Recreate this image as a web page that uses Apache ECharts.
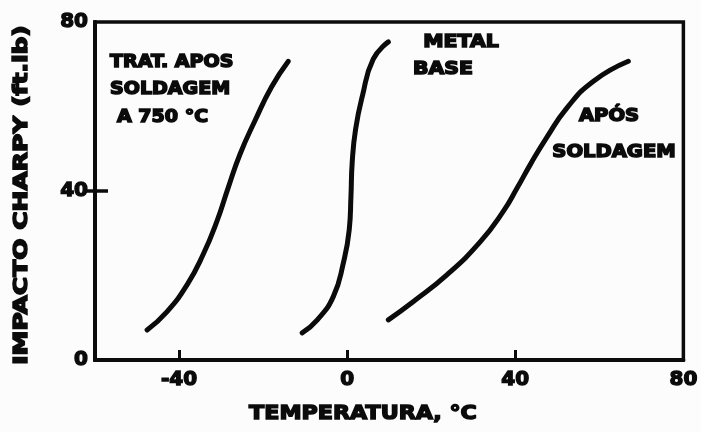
<!DOCTYPE html>
<html>
<head>
<meta charset="utf-8">
<script src="https://cdn.jsdelivr.net/npm/echarts@6/dist/echarts.min.js"></script>
<style>
html,body{margin:0;padding:0;background:#fcfcfc;}
#chart{width:701px;height:432px;}
</style>
</head>
<body>
<div id="chart"></div>
<script>
// Tick labels
const xTickValues = [-40, 0, 40, 80];
const yTickValues = [0, 40, 80];

// Curve: TRAT. APOS SOLDAGEM A 750 °C
const tratTemp = [-47.6, -42.9, -38.1, -34.3, -31.0, -28.3, -25.5, -22.0, -18.0, -14.0];
const tratImpact = [7.1, 11.4, 17.8, 24.9, 32.8, 40.8, 48.7, 56.5, 64.6, 70.7];

// Curve: METAL BASE
const baseTemp = [-10.7, -7.1, -3.3, -0.9, 0.5, 0.9, 1.2, 2.0, 3.6, 6.2, 9.8];
const baseImpact = [6.4, 9.5, 15.0, 23.0, 30.9, 38.7, 46.8, 54.6, 62.4, 71.2, 75.3];

// Curve: APÓS SOLDAGEM
const aposTemp = [9.8, 15.7, 23.8, 31.7, 37.1, 40.5, 43.6, 47.5, 52.4, 58.6, 66.9];
const aposImpact = [9.5, 13.8, 20.2, 28.0, 35.1, 40.8, 46.3, 52.7, 59.8, 66.0, 70.7];

function pairs(xs, ys) { return xs.map((x, i) => [x, ys[i]]); }

const FONT = 'DejaVu Sans';
const ink = '#0b0b0b';
const labelStyle = {
  color: ink, fontFamily: FONT, fontWeight: 'bold', fontSize: 20,
  textBorderColor: ink, textBorderWidth: 1.4
};

function txt(text, x, y, size, scale, align, rot) {
  return {
    type: 'text', x: x, y: y, rotation: rot || 0, scaleX: scale, scaleY: 1,
    style: {
      text: text, fill: ink, stroke: ink, lineWidth: 1.5,
      font: 'bold ' + size + 'px "' + FONT + '"',
      align: align || 'left', verticalAlign: 'middle'
    }
  };
}

const chart = echarts.init(document.getElementById('chart'), null, {renderer: 'canvas'});
const lineSeries = (name, data) => ({
  name: name, type: 'line', data: data, smooth: 0.5, showSymbol: false,
  lineStyle: {color: ink, width: 5, cap: 'round', join: 'round'},
  emphasis: {disabled: true}, silent: true
});

chart.setOption({
  backgroundColor: '#fcfcfc',
  animation: false,
  grid: {
    left: 95, right: 16, top: 22, bottom: 72, containLabel: false,
    show: true, borderColor: ink, borderWidth: 3.5, backgroundColor: 'transparent'
  },
  xAxis: {
    type: 'value', min: -60, max: 80,
    splitLine: {show: false},
    axisLine: {onZero: false, lineStyle: {color: ink, width: 4}},
    axisTick: {show: true, inside: true, length: 10, customValues: [-40, 0, 40], lineStyle: {color: ink, width: 3}},
    axisLabel: Object.assign({customValues: xTickValues, margin: 10}, labelStyle)
  },
  yAxis: [{
    type: 'value', min: 0, max: 80,
    splitLine: {show: false},
    axisLine: {onZero: false, lineStyle: {color: ink, width: 4}},
    axisTick: {inside: true, length: 13, customValues: [40], lineStyle: {color: ink, width: 3.5}},
    axisLabel: Object.assign({customValues: yTickValues, margin: 7}, labelStyle)
  }, {
    type: 'value', min: 0, max: 80, position: 'left', offset: 0,
    splitLine: {show: false},
    axisLine: {show: true, onZero: false, lineStyle: {color: ink, width: 4}},
    axisTick: {show: true, inside: false, length: 9, customValues: [40], lineStyle: {color: ink, width: 3.5}},
    axisLabel: {show: false}
  }],
  series: [
    lineSeries('TRAT. APOS SOLDAGEM A 750 °C', pairs(tratTemp, tratImpact)),
    lineSeries('METAL BASE', pairs(baseTemp, baseImpact)),
    lineSeries('APÓS SOLDAGEM', pairs(aposTemp, aposImpact))
  ],
  graphic: [
    txt('TRAT. APOS', 110, 63, 17, 1.12),
    txt('SOLDAGEM', 110, 90, 17, 1.12),
    txt('A 750 °C', 117, 118, 17, 1.12),
    txt('METAL', 461, 43, 17, 1.2, 'center'),
    txt('BASE', 443, 70, 17, 1.2, 'center'),
    txt('APÓS', 609, 117, 17, 1.15, 'center'),
    txt('SOLDAGEM', 614, 153, 17, 1.15, 'center'),
    txt('TEMPERATURA, °C', 363, 414, 20, 1.11, 'center'),
    txt('IMPACTO CHARPY (ft.lb)', 22, 195, 20, 1.25, 'center', Math.PI / 2)
  ]
});
</script>
</body>
</html>
